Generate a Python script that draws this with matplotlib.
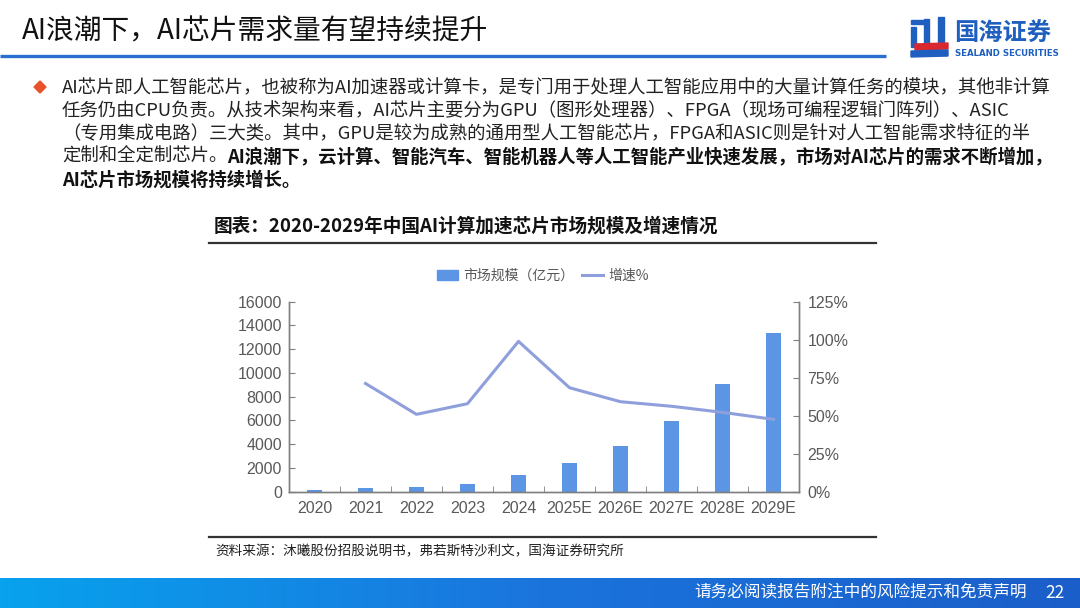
import matplotlib
matplotlib.use("Agg")
import matplotlib.pyplot as plt
import numpy as np
from matplotlib.patches import Rectangle, Polygon, Patch
from matplotlib.lines import Line2D
from matplotlib.ticker import PercentFormatter

plt.rcParams["font.family"] = ["Noto Sans CJK SC", "DejaVu Sans"]

# data
years = ["2020", "2021", "2022", "2023", "2024",
         "2025E", "2026E", "2027E", "2028E", "2029E"]
market_size = [110, 280, 420, 690, 1400, 2410, 3810, 5960, 9030, 13400]  # 亿元
growth_pct = [np.nan, 71.2, 50.9, 57.9, 98.9, 68.4, 59.2, 56.2, 52.2, 47.6]

size_ticks = list(range(0, 16001, 2000))
growth_ticks = [0, 25, 50, 75, 100, 125]

page_title = "AI浪潮下，AI芯片需求量有望持续提升"
para_lines = [
    "AI芯片即人工智能芯片，也被称为AI加速器或计算卡，是专门用于处理人工智能应用中的大量计算任务的模块，其他非计算",
    "任务仍由CPU负责。从技术架构来看，AI芯片主要分为GPU（图形处理器）、FPGA（现场可编程逻辑门阵列）、ASIC",
    "（专用集成电路）三大类。其中，GPU是较为成熟的通用型人工智能芯片，FPGA和ASIC则是针对人工智能需求特征的半",
]
para_line4_plain = "定制和全定制芯片。"
para_line4_bold = "AI浪潮下，云计算、智能汽车、智能机器人等人工智能产业快速发展，市场对AI芯片的需求不断增加，"
para_line5_bold = "AI芯片市场规模将持续增长。"
chart_title = "图表：2020-2029年中国AI计算加速芯片市场规模及增速情况"
source_text = "资料来源：沐曦股份招股说明书，弗若斯特沙利文，国海证券研究所"
footer_text = "请务必阅读报告附注中的风险提示和免责声明"
page_no = "22"

bar_color = "#5b95e4"
line_color = "#8e9fdc"
axis_color = "#7f7f7f"
label_color = "#595959"
brand_blue = "#1f5fbf"

fig = plt.figure(figsize=(10.8, 6.08), dpi=100)

# page decoration in pixel coordinates
bg = fig.add_axes([0, 0, 1, 1])
bg.set_xlim(0, 1080)
bg.set_ylim(608, 0)
bg.axis("off")

bg.text(22, 31, page_title, fontsize=20, fontweight="medium",
        color="#111111", va="center", ha="left")
bg.plot([0, 886], [56, 56], color="#2a6fd0", linewidth=2.4,
        solid_capstyle="butt")

# logo
bg.add_patch(Rectangle((911, 20), 17, 4, color=brand_blue))
bg.add_patch(Rectangle((911, 27), 5, 20, color=brand_blue))
bg.add_patch(Rectangle((924, 19), 5, 26, color=brand_blue))
bg.add_patch(Rectangle((938, 17), 6, 25, color=brand_blue))
bg.add_patch(Polygon([(915, 44), (948, 43), (948, 49), (915, 50)],
                     color="#d9282f"))
bg.add_patch(Polygon([(911, 51), (948, 50), (948, 56), (911, 57)],
                     color=brand_blue))
bg.text(954, 34, "国海证券", fontsize=17.5, fontweight="bold",
        color=brand_blue, va="center", ha="left")
bg.text(955, 53, "SEALAND SECURITIES", fontsize=6.2, fontweight="bold",
        color=brand_blue, va="center", ha="left", family="DejaVu Sans")

# bullet paragraph
bg.add_patch(Polygon([(40, 81), (46, 87), (40, 93), (34, 87)],
                     color="#e9532b"))
para_size = 13.25
para_y = [88, 111, 134, 157, 180]
for y, line in zip(para_y, para_lines):
    bg.text(62, y, line, fontsize=para_size, color="#222222",
            va="center", ha="left")
t4 = bg.text(62, para_y[3], para_line4_plain, fontsize=para_size,
             color="#222222", va="center", ha="left")
bg.annotate(para_line4_bold, xy=(1, 0.5), xycoords=t4, va="center",
            ha="left", fontsize=para_size, fontweight="bold", color="#111111")
bg.text(62, para_y[4], para_line5_bold, fontsize=para_size, fontweight="bold",
        color="#111111", va="center", ha="left")

# chart title and rules
bg.text(214, 226, chart_title, fontsize=13.4, fontweight="bold",
        color="#111111", va="center", ha="left")
bg.plot([209, 876], [243, 243], color="#333333", linewidth=1.6)
bg.plot([209, 876], [537, 537], color="#333333", linewidth=1.6)
bg.text(215, 551, source_text, fontsize=9.8, color="#222222",
        va="center", ha="left")

# footer band
grad = np.linspace(0, 1, 256).reshape(1, -1)
cmap = matplotlib.colors.LinearSegmentedColormap.from_list(
    "footer", ["#08a2ee", "#1b74dc", "#1a5ec9"])
bg.imshow(grad, extent=[0, 1080, 608, 578], aspect="auto", cmap=cmap,
          zorder=0)
bg.set_xlim(0, 1080)
bg.set_ylim(608, 0)
bg.text(1027, 593, footer_text, fontsize=12, color="white",
        va="center", ha="right")
bg.text(1055, 593, page_no, fontsize=12.5, color="white",
        va="center", ha="center")

# chart
ax = fig.add_axes([289 / 1080, 1 - 491.7 / 608, 510 / 1080, 190 / 608])
x = np.arange(len(years))
ax.bar(x, market_size, width=0.31, color=bar_color, zorder=2)
ax.set_xlim(-0.5, len(years) - 0.5)
ax.set_ylim(0, 16000)
ax.set_yticks(size_ticks)
ax.set_xticks(x)
ax.set_xticklabels(years)
ax.set_xticks(np.arange(-0.5, len(years), 1), minor=True)
ax.tick_params(axis="x", which="major", length=0, pad=7)
ax.tick_params(axis="x", which="minor", direction="in", length=4,
               color=axis_color)
ax.tick_params(axis="y", direction="in", length=4, color=axis_color, pad=5)
ax.tick_params(labelsize=11.5, labelcolor=label_color)

ax2 = ax.twinx()
ax2.plot(x, growth_pct, color=line_color, linewidth=2.2, zorder=3)
ax2.set_ylim(0, 125)
ax2.set_yticks(growth_ticks)
ax2.yaxis.set_major_formatter(PercentFormatter(xmax=100, decimals=0))
ax2.tick_params(axis="y", direction="in", length=4, color=axis_color,
                pad=6, labelsize=11.5, labelcolor=label_color)

for a in (ax, ax2):
    a.spines["top"].set_visible(False)
    for s in ("left", "right", "bottom"):
        a.spines[s].set_color(axis_color)
        a.spines[s].set_linewidth(1.0)
    for lab in a.get_xticklabels() + a.get_yticklabels():
        lab.set_family(["Liberation Sans", "DejaVu Sans"])

handles = [Patch(color=bar_color, label="市场规模（亿元）"),
           Line2D([], [], color=line_color, linewidth=2.2, label="增速%")]
fig.legend(handles=handles, loc="center", ncol=2, frameon=False,
           bbox_to_anchor=(543 / 1080, 1 - 276 / 608), fontsize=10,
           handlelength=1.5, handletextpad=0.4, columnspacing=0.6,
           labelcolor=label_color)

fig.savefig("out.png", dpi=100)
